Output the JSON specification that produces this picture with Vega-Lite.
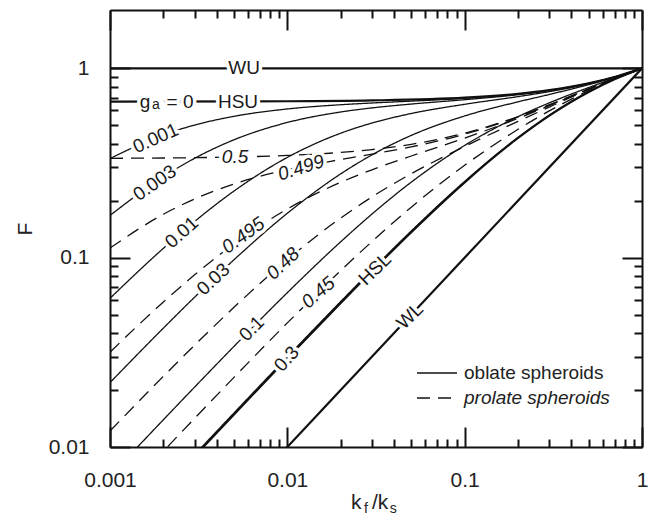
{
  "$schema": "https://vega.github.io/schema/vega-lite/v6.json",
  "width": 532,
  "height": 437,
  "autosize": {"type": "none"},
  "padding": {"left": 110, "top": 10, "right": 9, "bottom": 70},
  "background": "white",
  "config": {"view": {"stroke": null}, "font": "Liberation Sans"},
  "datasets": {
    "bounds": [
      {"c": "WU", "kr": 0.001, "F": 1}, {"c": "WU", "kr": 1, "F": 1},
      {"c": "HSU", "kr": 0.001, "F": 0.667}, {"c": "HSU", "kr": 0.01, "F": 0.67}, {"c": "HSU", "kr": 0.03, "F": 0.6767}, {"c": "HSU", "kr": 0.1, "F": 0.7}, {"c": "HSU", "kr": 0.2, "F": 0.7333}, {"c": "HSU", "kr": 0.3, "F": 0.7667}, {"c": "HSU", "kr": 0.5, "F": 0.8333}, {"c": "HSU", "kr": 0.7, "F": 0.9}, {"c": "HSU", "kr": 1, "F": 1},
      {"c": "HSL", "kr": 0.001, "F": 0.002994}, {"c": "HSL", "kr": 0.002, "F": 0.005976}, {"c": "HSL", "kr": 0.003, "F": 0.008946}, {"c": "HSL", "kr": 0.005, "F": 0.01485}, {"c": "HSL", "kr": 0.01, "F": 0.02941}, {"c": "HSL", "kr": 0.02, "F": 0.05769}, {"c": "HSL", "kr": 0.03, "F": 0.08491}, {"c": "HSL", "kr": 0.05, "F": 0.1364}, {"c": "HSL", "kr": 0.1, "F": 0.25}, {"c": "HSL", "kr": 0.2, "F": 0.4286}, {"c": "HSL", "kr": 0.3, "F": 0.5625}, {"c": "HSL", "kr": 0.5, "F": 0.75}, {"c": "HSL", "kr": 0.7, "F": 0.875}, {"c": "HSL", "kr": 1, "F": 1},
      {"c": "WL", "kr": 0.001, "F": 0.001}, {"c": "WL", "kr": 1, "F": 1}
    ],
    "curves": [
      {"c": "0.001", "shape": "oblate spheroids", "kr": 0.001, "F": 0.3338}, {"c": "0.001", "shape": "oblate spheroids", "kr": 0.002, "F": 0.4454}, {"c": "0.001", "shape": "oblate spheroids", "kr": 0.003, "F": 0.5014}, {"c": "0.001", "shape": "oblate spheroids", "kr": 0.005, "F": 0.5577}, {"c": "0.001", "shape": "oblate spheroids", "kr": 0.01, "F": 0.6099}, {"c": "0.001", "shape": "oblate spheroids", "kr": 0.02, "F": 0.6422}, {"c": "0.001", "shape": "oblate spheroids", "kr": 0.03, "F": 0.6558}, {"c": "0.001", "shape": "oblate spheroids", "kr": 0.05, "F": 0.6709}, {"c": "0.001", "shape": "oblate spheroids", "kr": 0.1, "F": 0.6941}, {"c": "0.001", "shape": "oblate spheroids", "kr": 0.2, "F": 0.7308}, {"c": "0.001", "shape": "oblate spheroids", "kr": 0.3, "F": 0.7653}, {"c": "0.001", "shape": "oblate spheroids", "kr": 0.5, "F": 0.8328}, {"c": "0.001", "shape": "oblate spheroids", "kr": 0.7, "F": 0.8999}, {"c": "0.001", "shape": "oblate spheroids", "kr": 1, "F": 1},
      {"c": "0.003", "shape": "oblate spheroids", "kr": 0.001, "F": 0.1671}, {"c": "0.003", "shape": "oblate spheroids", "kr": 0.002, "F": 0.2677}, {"c": "0.003", "shape": "oblate spheroids", "kr": 0.003, "F": 0.3348}, {"c": "0.003", "shape": "oblate spheroids", "kr": 0.005, "F": 0.4191}, {"c": "0.003", "shape": "oblate spheroids", "kr": 0.01, "F": 0.5174}, {"c": "0.003", "shape": "oblate spheroids", "kr": 0.02, "F": 0.5879}, {"c": "0.003", "shape": "oblate spheroids", "kr": 0.03, "F": 0.6178}, {"c": "0.003", "shape": "oblate spheroids", "kr": 0.05, "F": 0.6475}, {"c": "0.003", "shape": "oblate spheroids", "kr": 0.1, "F": 0.6827}, {"c": "0.003", "shape": "oblate spheroids", "kr": 0.2, "F": 0.7258}, {"c": "0.003", "shape": "oblate spheroids", "kr": 0.3, "F": 0.7625}, {"c": "0.003", "shape": "oblate spheroids", "kr": 0.5, "F": 0.8318}, {"c": "0.003", "shape": "oblate spheroids", "kr": 0.7, "F": 0.8996}, {"c": "0.003", "shape": "oblate spheroids", "kr": 1, "F": 1},
      {"c": "0.01", "shape": "oblate spheroids", "kr": 0.001, "F": 0.061}, {"c": "0.01", "shape": "oblate spheroids", "kr": 0.002, "F": 0.112}, {"c": "0.01", "shape": "oblate spheroids", "kr": 0.003, "F": 0.1552}, {"c": "0.01", "shape": "oblate spheroids", "kr": 0.005, "F": 0.2247}, {"c": "0.01", "shape": "oblate spheroids", "kr": 0.01, "F": 0.3384}, {"c": "0.01", "shape": "oblate spheroids", "kr": 0.02, "F": 0.4542}, {"c": "0.01", "shape": "oblate spheroids", "kr": 0.03, "F": 0.514}, {"c": "0.01", "shape": "oblate spheroids", "kr": 0.05, "F": 0.5772}, {"c": "0.01", "shape": "oblate spheroids", "kr": 0.1, "F": 0.6456}, {"c": "0.01", "shape": "oblate spheroids", "kr": 0.2, "F": 0.7088}, {"c": "0.01", "shape": "oblate spheroids", "kr": 0.3, "F": 0.7529}, {"c": "0.01", "shape": "oblate spheroids", "kr": 0.5, "F": 0.8284}, {"c": "0.01", "shape": "oblate spheroids", "kr": 0.7, "F": 0.8986}, {"c": "0.01", "shape": "oblate spheroids", "kr": 1, "F": 1},
      {"c": "0.03", "shape": "oblate spheroids", "kr": 0.001, "F": 0.02188}, {"c": "0.03", "shape": "oblate spheroids", "kr": 0.002, "F": 0.04245}, {"c": "0.03", "shape": "oblate spheroids", "kr": 0.003, "F": 0.06184}, {"c": "0.03", "shape": "oblate spheroids", "kr": 0.005, "F": 0.09742}, {"c": "0.03", "shape": "oblate spheroids", "kr": 0.01, "F": 0.1715}, {"c": "0.03", "shape": "oblate spheroids", "kr": 0.02, "F": 0.277}, {"c": "0.03", "shape": "oblate spheroids", "kr": 0.03, "F": 0.349}, {"c": "0.03", "shape": "oblate spheroids", "kr": 0.05, "F": 0.4423}, {"c": "0.03", "shape": "oblate spheroids", "kr": 0.1, "F": 0.5602}, {"c": "0.03", "shape": "oblate spheroids", "kr": 0.2, "F": 0.6653}, {"c": "0.03", "shape": "oblate spheroids", "kr": 0.3, "F": 0.7274}, {"c": "0.03", "shape": "oblate spheroids", "kr": 0.5, "F": 0.8191}, {"c": "0.03", "shape": "oblate spheroids", "kr": 0.7, "F": 0.8958}, {"c": "0.03", "shape": "oblate spheroids", "kr": 1, "F": 1},
      {"c": "0.1", "shape": "oblate spheroids", "kr": 0.001, "F": 0.007024}, {"c": "0.1", "shape": "oblate spheroids", "kr": 0.002, "F": 0.01393}, {"c": "0.1", "shape": "oblate spheroids", "kr": 0.003, "F": 0.02072}, {"c": "0.1", "shape": "oblate spheroids", "kr": 0.005, "F": 0.03398}, {"c": "0.1", "shape": "oblate spheroids", "kr": 0.01, "F": 0.06532}, {"c": "0.1", "shape": "oblate spheroids", "kr": 0.02, "F": 0.1213}, {"c": "0.1", "shape": "oblate spheroids", "kr": 0.03, "F": 0.1699}, {"c": "0.1", "shape": "oblate spheroids", "kr": 0.05, "F": 0.2505}, {"c": "0.1", "shape": "oblate spheroids", "kr": 0.1, "F": 0.3915}, {"c": "0.1", "shape": "oblate spheroids", "kr": 0.2, "F": 0.5556}, {"c": "0.1", "shape": "oblate spheroids", "kr": 0.3, "F": 0.6568}, {"c": "0.1", "shape": "oblate spheroids", "kr": 0.5, "F": 0.7912}, {"c": "0.1", "shape": "oblate spheroids", "kr": 0.7, "F": 0.8875}, {"c": "0.1", "shape": "oblate spheroids", "kr": 1, "F": 1},
      {"c": "0.3", "shape": "oblate spheroids", "kr": 0.001, "F": 0.003049}, {"c": "0.3", "shape": "oblate spheroids", "kr": 0.002, "F": 0.006085}, {"c": "0.3", "shape": "oblate spheroids", "kr": 0.003, "F": 0.009109}, {"c": "0.3", "shape": "oblate spheroids", "kr": 0.005, "F": 0.01512}, {"c": "0.3", "shape": "oblate spheroids", "kr": 0.01, "F": 0.02993}, {"c": "0.3", "shape": "oblate spheroids", "kr": 0.02, "F": 0.05864}, {"c": "0.3", "shape": "oblate spheroids", "kr": 0.03, "F": 0.08623}, {"c": "0.3", "shape": "oblate spheroids", "kr": 0.05, "F": 0.1383}, {"c": "0.3", "shape": "oblate spheroids", "kr": 0.1, "F": 0.2526}, {"c": "0.3", "shape": "oblate spheroids", "kr": 0.2, "F": 0.4312}, {"c": "0.3", "shape": "oblate spheroids", "kr": 0.3, "F": 0.5646}, {"c": "0.3", "shape": "oblate spheroids", "kr": 0.5, "F": 0.7509}, {"c": "0.3", "shape": "oblate spheroids", "kr": 0.7, "F": 0.8753}, {"c": "0.3", "shape": "oblate spheroids", "kr": 1, "F": 1},
      {"c": "0.5", "shape": "prolate spheroids", "kr": 0.001, "F": 0.3347}, {"c": "0.5", "shape": "prolate spheroids", "kr": 0.002, "F": 0.336}, {"c": "0.5", "shape": "prolate spheroids", "kr": 0.003, "F": 0.3373}, {"c": "0.5", "shape": "prolate spheroids", "kr": 0.005, "F": 0.34}, {"c": "0.5", "shape": "prolate spheroids", "kr": 0.01, "F": 0.3465}, {"c": "0.5", "shape": "prolate spheroids", "kr": 0.02, "F": 0.3595}, {"c": "0.5", "shape": "prolate spheroids", "kr": 0.03, "F": 0.3722}, {"c": "0.5", "shape": "prolate spheroids", "kr": 0.05, "F": 0.3968}, {"c": "0.5", "shape": "prolate spheroids", "kr": 0.1, "F": 0.4545}, {"c": "0.5", "shape": "prolate spheroids", "kr": 0.2, "F": 0.5556}, {"c": "0.5", "shape": "prolate spheroids", "kr": 0.3, "F": 0.641}, {"c": "0.5", "shape": "prolate spheroids", "kr": 0.5, "F": 0.7778}, {"c": "0.5", "shape": "prolate spheroids", "kr": 0.7, "F": 0.8824}, {"c": "0.5", "shape": "prolate spheroids", "kr": 1, "F": 1},
      {"c": "0.499", "shape": "prolate spheroids", "kr": 0.001, "F": 0.1125}, {"c": "0.499", "shape": "prolate spheroids", "kr": 0.002, "F": 0.1695}, {"c": "0.499", "shape": "prolate spheroids", "kr": 0.003, "F": 0.2042}, {"c": "0.499", "shape": "prolate spheroids", "kr": 0.005, "F": 0.2451}, {"c": "0.499", "shape": "prolate spheroids", "kr": 0.01, "F": 0.2915}, {"c": "0.499", "shape": "prolate spheroids", "kr": 0.02, "F": 0.3298}, {"c": "0.499", "shape": "prolate spheroids", "kr": 0.03, "F": 0.352}, {"c": "0.499", "shape": "prolate spheroids", "kr": 0.05, "F": 0.3847}, {"c": "0.499", "shape": "prolate spheroids", "kr": 0.1, "F": 0.4489}, {"c": "0.499", "shape": "prolate spheroids", "kr": 0.2, "F": 0.5532}, {"c": "0.499", "shape": "prolate spheroids", "kr": 0.3, "F": 0.6398}, {"c": "0.499", "shape": "prolate spheroids", "kr": 0.5, "F": 0.7774}, {"c": "0.499", "shape": "prolate spheroids", "kr": 0.7, "F": 0.8823}, {"c": "0.499", "shape": "prolate spheroids", "kr": 1, "F": 1},
      {"c": "0.495", "shape": "prolate spheroids", "kr": 0.001, "F": 0.03168}, {"c": "0.495", "shape": "prolate spheroids", "kr": 0.002, "F": 0.05834}, {"c": "0.495", "shape": "prolate spheroids", "kr": 0.003, "F": 0.08113}, {"c": "0.495", "shape": "prolate spheroids", "kr": 0.005, "F": 0.1182}, {"c": "0.495", "shape": "prolate spheroids", "kr": 0.01, "F": 0.1808}, {"c": "0.495", "shape": "prolate spheroids", "kr": 0.02, "F": 0.2501}, {"c": "0.495", "shape": "prolate spheroids", "kr": 0.03, "F": 0.2911}, {"c": "0.495", "shape": "prolate spheroids", "kr": 0.05, "F": 0.3442}, {"c": "0.495", "shape": "prolate spheroids", "kr": 0.1, "F": 0.428}, {"c": "0.495", "shape": "prolate spheroids", "kr": 0.2, "F": 0.5442}, {"c": "0.495", "shape": "prolate spheroids", "kr": 0.3, "F": 0.6351}, {"c": "0.495", "shape": "prolate spheroids", "kr": 0.5, "F": 0.776}, {"c": "0.495", "shape": "prolate spheroids", "kr": 0.7, "F": 0.8819}, {"c": "0.495", "shape": "prolate spheroids", "kr": 1, "F": 1},
      {"c": "0.48", "shape": "prolate spheroids", "kr": 0.001, "F": 0.01214}, {"c": "0.48", "shape": "prolate spheroids", "kr": 0.002, "F": 0.02362}, {"c": "0.48", "shape": "prolate spheroids", "kr": 0.003, "F": 0.0345}, {"c": "0.48", "shape": "prolate spheroids", "kr": 0.005, "F": 0.05466}, {"c": "0.48", "shape": "prolate spheroids", "kr": 0.01, "F": 0.09756}, {"c": "0.48", "shape": "prolate spheroids", "kr": 0.02, "F": 0.1619}, {"c": "0.48", "shape": "prolate spheroids", "kr": 0.03, "F": 0.2092}, {"c": "0.48", "shape": "prolate spheroids", "kr": 0.05, "F": 0.2776}, {"c": "0.48", "shape": "prolate spheroids", "kr": 0.1, "F": 0.3867}, {"c": "0.48", "shape": "prolate spheroids", "kr": 0.2, "F": 0.5244}, {"c": "0.48", "shape": "prolate spheroids", "kr": 0.3, "F": 0.6243}, {"c": "0.48", "shape": "prolate spheroids", "kr": 0.5, "F": 0.7726}, {"c": "0.48", "shape": "prolate spheroids", "kr": 0.7, "F": 0.881}, {"c": "0.48", "shape": "prolate spheroids", "kr": 1, "F": 1},
      {"c": "0.45", "shape": "prolate spheroids", "kr": 0.001, "F": 0.004783}, {"c": "0.45", "shape": "prolate spheroids", "kr": 0.002, "F": 0.009504}, {"c": "0.45", "shape": "prolate spheroids", "kr": 0.003, "F": 0.01417}, {"c": "0.45", "shape": "prolate spheroids", "kr": 0.005, "F": 0.02331}, {"c": "0.45", "shape": "prolate spheroids", "kr": 0.01, "F": 0.04522}, {"c": "0.45", "shape": "prolate spheroids", "kr": 0.02, "F": 0.08542}, {"c": "0.45", "shape": "prolate spheroids", "kr": 0.03, "F": 0.1216}, {"c": "0.45", "shape": "prolate spheroids", "kr": 0.05, "F": 0.1848}, {"c": "0.45", "shape": "prolate spheroids", "kr": 0.1, "F": 0.3075}, {"c": "0.45", "shape": "prolate spheroids", "kr": 0.2, "F": 0.4762}, {"c": "0.45", "shape": "prolate spheroids", "kr": 0.3, "F": 0.5955}, {"c": "0.45", "shape": "prolate spheroids", "kr": 0.5, "F": 0.7628}, {"c": "0.45", "shape": "prolate spheroids", "kr": 0.7, "F": 0.8785}, {"c": "0.45", "shape": "prolate spheroids", "kr": 1, "F": 1}
    ],
    "labels": [
      {"label": "WU", "shape": "bound", "kr": 0.0057, "F": 1, "slope": 0},
      {"label": "g", "shape": "bound", "kr": 0.001576, "F": 0.667, "slope": 0},
      {"label": "= 0", "shape": "bound", "kr": 0.002482, "F": 0.667, "slope": 0},
      {"label": "HSU", "shape": "bound", "kr": 0.00527, "F": 0.6675, "slope": 0},
      {"label": "0.001", "shape": "oblate spheroids", "kr": 0.00181, "F": 0.427, "slope": 0.42},
      {"label": "0.003", "shape": "oblate spheroids", "kr": 0.00179, "F": 0.248, "slope": 0.66},
      {"label": "0.01", "shape": "oblate spheroids", "kr": 0.00254, "F": 0.1358, "slope": 0.85},
      {"label": "0.03", "shape": "oblate spheroids", "kr": 0.003825, "F": 0.0768, "slope": 0.88},
      {"label": "0.1", "shape": "oblate spheroids", "kr": 0.0063, "F": 0.0422, "slope": 0.95},
      {"label": "0.3", "shape": "oblate spheroids", "kr": 0.00992, "F": 0.0292, "slope": 1.05},
      {"label": "HSL", "shape": "bound", "kr": 0.0312, "F": 0.087, "slope": 0.92},
      {"label": "WL", "shape": "bound", "kr": 0.0492, "F": 0.0492, "slope": 0.92},
      {"label": "0.5", "shape": "prolate spheroids", "kr": 0.00507, "F": 0.34, "slope": 0},
      {"label": "0.499", "shape": "prolate spheroids", "kr": 0.01194, "F": 0.298, "slope": 0.3},
      {"label": "0.495", "shape": "prolate spheroids", "kr": 0.00565, "F": 0.131, "slope": 0.68},
      {"label": "0.48", "shape": "prolate spheroids", "kr": 0.00946, "F": 0.0931, "slope": 0.9},
      {"label": "0.45", "shape": "prolate spheroids", "kr": 0.01496, "F": 0.0654, "slope": 0.8}
    ],
    "subscript": [
      {"label": "a", "kr": 0.001817, "F": 0.64}
    ]
  },
  "layer": [
    {
      "data": {"name": "bounds"},
      "mark": {"type": "line", "color": "#111", "strokeWidth": 2.2, "interpolate": "monotone", "clip": true},
      "encoding": {
        "x": {"field": "kr", "type": "quantitative", "scale": {"type": "log", "domain": [0.001, 1], "nice": false},
              "axis": {"orient": "bottom", "values": [0.001, 0.01, 0.1, 1], "format": "~g", "tickSize": -20, "tickWidth": 2, "tickColor": "#111", "domainWidth": 2, "domainColor": "#111", "labelFontSize": 21, "labelFont": "Liberation Sans", "labelColor": "#222", "labelPadding": 42, "labelFlush": false, "labelOverlap": false, "grid": false, "title": null}},
        "y": {"field": "F", "type": "quantitative", "scale": {"type": "log", "domain": [0.01, 2.032], "nice": false},
              "axis": {"orient": "left", "values": [0.01, 0.1, 1], "format": "~g", "tickSize": -20, "tickWidth": 2, "tickColor": "#111", "domainWidth": 2, "domainColor": "#111", "labelFontSize": 21, "labelFont": "Liberation Sans", "labelColor": "#222", "labelPadding": 41, "labelFlush": false, "labelOverlap": false, "grid": false, "title": "F", "titleFont": "Liberation Sans", "titleFontSize": 21, "titleFontWeight": "normal", "titleColor": "#222", "titlePadding": 13}},
        "detail": {"field": "c"}
      }
    },
    {
      "data": {"name": "curves"},
      "mark": {"type": "line", "color": "#111", "strokeWidth": 1.3, "interpolate": "monotone", "clip": true},
      "encoding": {
        "x": {"field": "kr", "type": "quantitative", "scale": {"type": "log", "domain": [0.001, 1], "nice": false},
              "axis": {"orient": "bottom", "values": [0.002, 0.003, 0.004, 0.005, 0.006, 0.007, 0.008, 0.009, 0.02, 0.03, 0.04, 0.05, 0.06, 0.07, 0.08, 0.09, 0.2, 0.3, 0.4, 0.5, 0.6, 0.7, 0.8, 0.9], "tickSize": -8, "tickWidth": 2, "tickColor": "#111", "domain": false, "labels": false, "grid": false, "title": null}},
        "y": {"field": "F", "type": "quantitative", "scale": {"type": "log", "domain": [0.01, 2.032], "nice": false},
              "axis": {"orient": "left", "values": [0.02, 0.03, 0.04, 0.05, 0.06, 0.07, 0.08, 0.09, 0.2, 0.3, 0.4, 0.5, 0.6, 0.7, 0.8, 0.9], "tickSize": -8, "tickWidth": 2, "tickColor": "#111", "domain": false, "labels": false, "grid": false, "title": null}},
        "detail": {"field": "c"},
        "strokeDash": {"field": "shape", "type": "nominal",
          "scale": {"domain": ["oblate spheroids", "prolate spheroids"], "range": [[1, 0], [13, 8]]},
          "legend": {"orient": "none", "legendX": 306, "legendY": 353, "title": null, "padding": 0, "symbolType": "stroke", "symbolSize": 1600, "clipHeight": 20, "symbolStrokeWidth": 1.5, "symbolStrokeColor": "#111", "labelFont": "Liberation Sans", "labelFontSize": 19, "labelColor": "#222", "labelOffset": 6, "rowPadding": 5,
            "encode": {"labels": {"update": {"fontStyle": {"signal": "datum.value === 'prolate spheroids' ? 'italic' : 'normal'"}}}}}}
      }
    },
    {
      "data": {"name": "labels"},
      "transform": [{"filter": "datum.shape !== 'prolate spheroids'"}],
      "mark": {"type": "text", "align": "center", "baseline": "middle", "font": "Liberation Sans", "fontSize": 19, "fill": "white", "stroke": "white", "strokeWidth": 7, "strokeJoin": "round"},
      "encoding": {
        "x": {"field": "kr", "type": "quantitative", "scale": {"type": "log", "domain": [0.001, 1], "nice": false},
              "axis": {"orient": "top", "values": [0.001, 0.01, 0.1, 1], "tickSize": -20, "tickWidth": 2, "tickColor": "#111", "domainWidth": 2, "domainColor": "#111", "labels": false, "grid": false, "title": null}},
        "y": {"field": "F", "type": "quantitative", "scale": {"type": "log", "domain": [0.01, 2.032], "nice": false},
              "axis": {"orient": "right", "values": [0.01, 0.1, 1], "tickSize": -20, "tickWidth": 2, "tickColor": "#111", "domainWidth": 2, "domainColor": "#111", "labels": false, "grid": false, "title": null}},
        "text": {"field": "label"},
        "angle": {"field": "slope", "type": "quantitative", "scale": {"domain": [0, 0.2, 0.4, 0.6, 0.8, 1, 1.2], "range": [0, -12, -23.1, -32.6, -40.5, -46.8, -52]}}
      }
    },
    {
      "data": {"name": "subscript"},
      "mark": {"type": "text", "align": "center", "baseline": "middle", "font": "Liberation Sans", "fontSize": 14, "fill": "white", "stroke": "white", "strokeWidth": 11, "strokeJoin": "round"},
      "encoding": {
        "x": {"field": "kr", "type": "quantitative", "scale": {"type": "log", "domain": [0.001, 1], "nice": false}, "axis": null},
        "y": {"field": "F", "type": "quantitative", "scale": {"type": "log", "domain": [0.01, 2.032], "nice": false}, "axis": null},
        "text": {"field": "label"}
      }
    },
    {
      "data": {"name": "labels"},
      "transform": [{"filter": "datum.shape !== 'prolate spheroids'"}],
      "mark": {"type": "text", "align": "center", "baseline": "middle", "font": "Liberation Sans", "fontSize": 19, "fill": "#1a1a1a"},
      "encoding": {
        "x": {"field": "kr", "type": "quantitative", "scale": {"type": "log", "domain": [0.001, 1], "nice": false},
              "axis": {"orient": "top", "values": [0.002, 0.003, 0.004, 0.005, 0.006, 0.007, 0.008, 0.009, 0.02, 0.03, 0.04, 0.05, 0.06, 0.07, 0.08, 0.09, 0.2, 0.3, 0.4, 0.5, 0.6, 0.7, 0.8, 0.9], "tickSize": -8, "tickWidth": 2, "tickColor": "#111", "domain": false, "labels": false, "grid": false, "title": null}},
        "y": {"field": "F", "type": "quantitative", "scale": {"type": "log", "domain": [0.01, 2.032], "nice": false},
              "axis": {"orient": "right", "values": [0.02, 0.03, 0.04, 0.05, 0.06, 0.07, 0.08, 0.09, 0.2, 0.3, 0.4, 0.5, 0.6, 0.7, 0.8, 0.9], "tickSize": -8, "tickWidth": 2, "tickColor": "#111", "domain": false, "labels": false, "grid": false, "title": null}},
        "text": {"field": "label"},
        "angle": {"field": "slope", "type": "quantitative", "scale": {"domain": [0, 0.2, 0.4, 0.6, 0.8, 1, 1.2], "range": [0, -12, -23.1, -32.6, -40.5, -46.8, -52]}}
      }
    },
    {
      "data": {"name": "subscript"},
      "mark": {"type": "text", "align": "center", "baseline": "middle", "font": "Liberation Sans", "fontSize": 14, "fill": "#1a1a1a"},
      "encoding": {
        "x": {"field": "kr", "type": "quantitative", "scale": {"type": "log", "domain": [0.001, 1], "nice": false}, "axis": null},
        "y": {"field": "F", "type": "quantitative", "scale": {"type": "log", "domain": [0.01, 2.032], "nice": false}, "axis": null},
        "text": {"field": "label"}
      }
    },
    {
      "data": {"name": "labels"},
      "transform": [{"filter": "datum.shape === 'prolate spheroids'"}],
      "mark": {"type": "text", "align": "center", "baseline": "middle", "font": "Liberation Sans", "fontSize": 19, "fontStyle": "italic", "fill": "white", "stroke": "white", "strokeWidth": 7, "strokeJoin": "round"},
      "encoding": {
        "x": {"field": "kr", "type": "quantitative", "scale": {"type": "log", "domain": [0.001, 1], "nice": false}, "axis": null},
        "y": {"field": "F", "type": "quantitative", "scale": {"type": "log", "domain": [0.01, 2.032], "nice": false}, "axis": null},
        "text": {"field": "label"},
        "angle": {"field": "slope", "type": "quantitative", "scale": {"domain": [0, 0.2, 0.4, 0.6, 0.8, 1, 1.2], "range": [0, -12, -23.1, -32.6, -40.5, -46.8, -52]}}
      }
    },
    {
      "data": {"name": "labels"},
      "transform": [{"filter": "datum.shape === 'prolate spheroids'"}],
      "mark": {"type": "text", "align": "center", "baseline": "middle", "font": "Liberation Sans", "fontSize": 19, "fontStyle": "italic", "fill": "#1a1a1a"},
      "encoding": {
        "x": {"field": "kr", "type": "quantitative", "scale": {"type": "log", "domain": [0.001, 1], "nice": false}, "axis": null},
        "y": {"field": "F", "type": "quantitative", "scale": {"type": "log", "domain": [0.01, 2.032], "nice": false}, "axis": null},
        "text": {"field": "label"},
        "angle": {"field": "slope", "type": "quantitative", "scale": {"domain": [0, 0.2, 0.4, 0.6, 0.8, 1, 1.2], "range": [0, -12, -23.1, -32.6, -40.5, -46.8, -52]}}
      }
    },
    {
      "data": {"values": [{"t": "k"}]},
      "mark": {"type": "text", "align": "left", "baseline": "alphabetic", "font": "Liberation Sans", "fontSize": 21, "fill": "#222", "clip": false},
      "encoding": {
        "x": {"datum": 0.02287, "type": "quantitative", "scale": {"type": "log", "domain": [0.001, 1], "nice": false}, "axis": null},
        "y": {"datum": 0.004706, "type": "quantitative", "scale": {"type": "log", "domain": [0.01, 2.032], "nice": false}, "axis": null},
        "text": {"field": "t"}
      }
    },
    {
      "data": {"values": [{"t": "f"}]},
      "mark": {"type": "text", "align": "left", "baseline": "alphabetic", "font": "Liberation Sans", "fontSize": 14, "fill": "#222", "clip": false},
      "encoding": {
        "x": {"datum": 0.02708, "type": "quantitative", "scale": {"type": "log", "domain": [0.001, 1], "nice": false}, "axis": null},
        "y": {"datum": 0.004481, "type": "quantitative", "scale": {"type": "log", "domain": [0.01, 2.032], "nice": false}, "axis": null},
        "text": {"field": "t"}
      }
    },
    {
      "data": {"values": [{"t": "/k"}]},
      "mark": {"type": "text", "align": "left", "baseline": "alphabetic", "font": "Liberation Sans", "fontSize": 21, "fill": "#222", "clip": false},
      "encoding": {
        "x": {"datum": 0.03, "type": "quantitative", "scale": {"type": "log", "domain": [0.001, 1], "nice": false}, "axis": null},
        "y": {"datum": 0.004706, "type": "quantitative", "scale": {"type": "log", "domain": [0.01, 2.032], "nice": false}, "axis": null},
        "text": {"field": "t"}
      }
    },
    {
      "data": {"values": [{"t": "s"}]},
      "mark": {"type": "text", "align": "left", "baseline": "alphabetic", "font": "Liberation Sans", "fontSize": 14, "fill": "#222", "clip": false},
      "encoding": {
        "x": {"datum": 0.03777, "type": "quantitative", "scale": {"type": "log", "domain": [0.001, 1], "nice": false}, "axis": null},
        "y": {"datum": 0.004481, "type": "quantitative", "scale": {"type": "log", "domain": [0.01, 2.032], "nice": false}, "axis": null},
        "text": {"field": "t"}
      }
    }
  ],
  "resolve": {"scale": {"x": "shared", "y": "shared"}, "axis": {"x": "independent", "y": "independent"}}
}
